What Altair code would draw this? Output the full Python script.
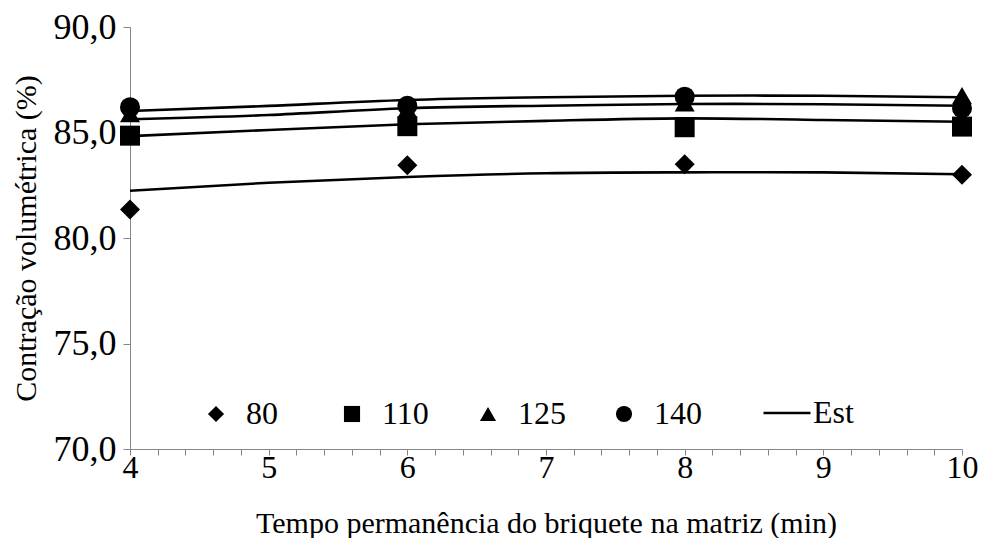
import altair as alt
import pandas as pd

# Observed points (temperature series, °C)
tempo = [4, 6, 8, 10]
series_names = ["80", "110", "125", "140"]
obs_80 = [81.35, 83.45, 83.5, 83.0]
obs_110 = [84.85, 85.3, 85.25, 85.28]
obs_125 = [85.9, 86.1, 86.4, 86.75]
obs_140 = [86.2, 86.27, 86.7, 86.15]

# Estimated (fitted) curves
tempo_est = [4, 5, 6, 7, 8, 9, 10]
est_80 = [82.24, 82.62, 82.89, 83.07, 83.11, 83.11, 83.02]
est_110 = [84.83, 85.12, 85.39, 85.55, 85.67, 85.59, 85.51]
est_140 = [85.63, 85.83, 86.15, 86.27, 86.35, 86.34, 86.27]
est_125 = [86.02, 86.26, 86.54, 86.67, 86.74, 86.74, 86.67]

shapes = ["diamond", "square", "triangle-up", "circle"]
y_ticks = [70, 75, 80, 85, 90]
x_ticks = [round(4 + 0.2 * i, 1) for i in range(31)]

obs_rows = []
for name, vals in zip(series_names, [obs_80, obs_110, obs_125, obs_140]):
    for t, v in zip(tempo, vals):
        obs_rows.append({"tempo": t, "valor": v, "serie": name})
obs_df = pd.DataFrame(obs_rows)

est_rows = []
for name, vals in zip(series_names, [est_80, est_110, est_125, est_140]):
    for t, v in zip(tempo_est, vals):
        est_rows.append({"tempo": t, "valor": v, "serie": name, "leg": "Est"})
est_df = pd.DataFrame(est_rows)

FONT = "Liberation Serif"
FS_XLAB = 32
FS_YLAB = 36
FS_TIT = 30
FS_LEG = 32

x_axis = alt.Axis(
    title="Tempo permanência do briquete na matriz (min)",
    values=x_ticks,
    labelExpr="abs(datum.value - round(datum.value)) < 0.01 ? format(datum.value, 'd') : ''",
    labelOverlap=False,
    labelFlush=False,
    grid=False,
    tickSize=6,
    labelPadding=-3,
    titlePadding=25,
    labelFont=FONT,
    titleFont=FONT,
    labelFontSize=FS_XLAB,
    titleFontSize=FS_TIT,
)
y_axis = alt.Axis(
    title="Contração volumétrica (%)",
    values=y_ticks,
    labelExpr="replace(format(datum.value, '.1f'), '.', ',')",
    labelOverlap=False,
    labelFlush=False,
    grid=False,
    tickSize=7,
    labelPadding=7,
    titlePadding=12,
    labelFont=FONT,
    titleFont=FONT,
    labelFontSize=FS_YLAB,
    titleFontSize=FS_TIT,
)
x_scale = alt.Scale(domain=[4, 10], nice=False)
y_scale = alt.Scale(domain=[70, 90], nice=False, zero=False)

lines = alt.Chart(est_df).mark_line(strokeWidth=2.6, interpolate="natural").encode(
    x=alt.X("tempo:Q", scale=x_scale, axis=x_axis),
    y=alt.Y("valor:Q", scale=y_scale, axis=y_axis),
    detail="serie:N",
    color=alt.Color(
        "leg:N",
        scale=alt.Scale(domain=["Est"], range=["black"]),
        legend=alt.Legend(
            title=None,
            orient="none",
            legendX=632,
            legendY=361,
            symbolType="stroke",
            symbolSize=2209,
            symbolStrokeWidth=2.6,
            labelOffset=1,
            labelFontSize=FS_LEG,
            labelFont=FONT,
            padding=0,
        ),
    ),
)

points = alt.Chart(obs_df).mark_point(filled=True, opacity=1, size=400).encode(
    x=alt.X("tempo:Q", scale=x_scale, axis=x_axis),
    y=alt.Y("valor:Q", scale=y_scale, axis=y_axis),
    shape=alt.Shape(
        "serie:N",
        scale=alt.Scale(domain=series_names, range=shapes),
        legend=alt.Legend(
            title=None,
            orient="none",
            direction="horizontal",
            legendX=70,
            legendY=371,
            columns=4,
            gridAlign="all",
            symbolSize=260,
            symbolFillColor="black",
            symbolStrokeColor="black",
            labelOffset=14,
            columnPadding=42,
            labelFontSize=FS_LEG,
            labelFont=FONT,
            padding=0,
        ),
    ),
    color=alt.value("black"),
)

chart = (
    alt.layer(lines, points)
    .properties(
        width=832,
        height=422,
        autosize=alt.AutoSizeParams(type="none"),
        padding={"left": 122, "top": 19, "right": 16, "bottom": 89},
    )
    .configure(font=FONT)
    .configure_view(stroke=None)
    .configure_axis(
        domainColor="#868686",
        tickColor="#868686",
        labelColor="black",
        titleColor="black",
        titleFontWeight="normal",
    )
    .configure_legend(labelColor="black")
)

chart.save("out.html", embed_options={"renderer": "svg", "actions": False})
